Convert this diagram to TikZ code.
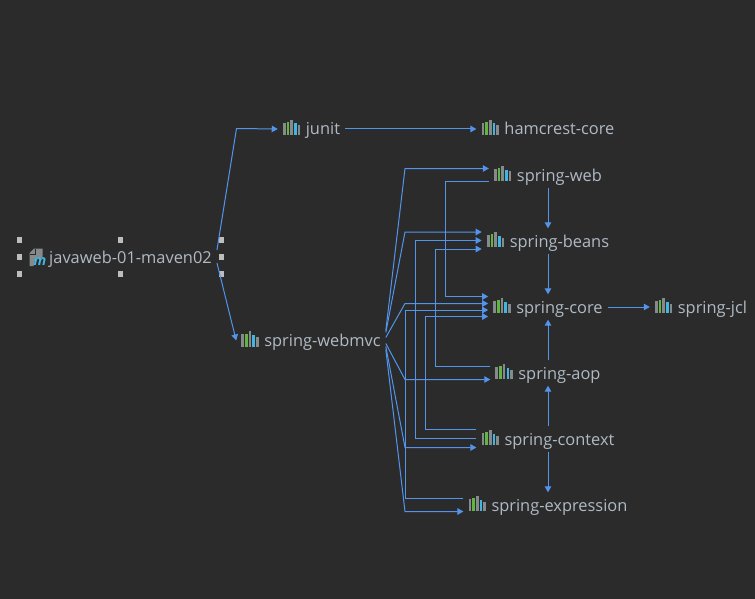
\documentclass[tikz,border=0pt]{standalone}
\usepackage{fontspec}
\setmainfont{Open Sans}
\usetikzlibrary{arrows.meta,positioning}
\definecolor{bgdark}{HTML}{2B2B2B}
\definecolor{deplink}{HTML}{5394EC}
\definecolor{libtext}{HTML}{B0BAC4}
\definecolor{bargray}{HTML}{858A8C}
\definecolor{bargreen}{HTML}{62B543}
\definecolor{barcyan}{HTML}{40B6E0}
\definecolor{handlegray}{HTML}{BDBDBD}
% bars of the library icon
\newcommand{\libicon}{\textcolor{bargray}{\rule{2.6pt}{12.3pt}}\kern1.1pt\textcolor{bargreen}{\rule{2.6pt}{12.6pt}}\kern1.1pt\textcolor{bargray}{\rule{2.6pt}{15.3pt}}\kern1.1pt\textcolor{barcyan}{\rule{2.6pt}{11.5pt}}\kern1.1pt\textcolor{bargray}{\rule{2.6pt}{9.5pt}}\kern5.5pt}
\tikzset{
    %Define standard arrow tip
    >={Triangle[length=6pt,width=6.5pt]},
    %Define style for library
    lib/.style={inner xsep=5pt, inner ysep=3.5pt, minimum height=25pt, text height=15pt, text depth=3pt, font=\fontsize{16.4pt}{18pt}\selectfont, text=libtext},
    dep/.style={draw=deplink, line width=1pt},
    handle/.style={fill=handlegray, inner sep=0pt, minimum size=5.5pt},
}
\begin{document}
\begin{tikzpicture}[x=1pt, y=-1pt, node distance=66pt, on grid]
    \fill[bgdark] (0,0) rectangle (755,599);

    \node[lib, minimum height=34pt](main) at (120.5,257){\hspace*{20pt}javaweb-01-maven02};
    \node[lib](junit) at (311.5,129){\libicon junit};
    \node[lib](webmvc) at (311,340.5){\libicon spring-webmvc};
    \node[lib](web) at (548,175){\libicon spring-web};
    \node[lib, above=46pt of web](hamcrest){\libicon hamcrest-core};
    \node[lib, below=of web](beans){\libicon spring-beans};
    \node[lib, below=of beans](core){\libicon spring-core};
    \node[lib, below=of core](aop){\libicon spring-aop};
    \node[lib, below=of aop](context){\libicon spring-context};
    \node[lib, below=of context](expression){\libicon spring-expression};
    \node[lib, right=153pt of core](jcl){\libicon spring-jcl};

    % project icon and selection handles
    \fill[bargray] (29.5,253) -- (34,248.5) -- (42.5,248.5) -- (42.5,258) -- (35.5,258) -- (33.5,266) -- (29.5,266) -- cycle;
    \draw[bgdark, line width=1pt] (30,254) -- (35,254) -- (35,249);
    \node[inner sep=0pt, text=barcyan, font=\fontsize{14pt}{14pt}\selectfont\bfseries\itshape](mavenm) at (40,261.5){m};
    \foreach \hx/\hy [count=\hi] in {19.5/240,120.5/240,221.5/240,19.5/257,221.5/257,19.5/274,120.5/274,221.5/274}
        \node[handle](handle\hi) at (\hx,\hy){};

    \draw[dep, ->] ([yshift=7pt]main.east) -- (236.5,128.5) -- (junit.west);
    \draw[dep, ->] ([yshift=-6pt]main.east) -- (webmvc.west);
    \draw[dep, ->] (junit.east) -- (hamcrest.west);
    \draw[dep, ->] (core.east) -- (jcl.west);

    % from spring-webmvc
    \draw[dep, ->] ([yshift=10pt]webmvc.east) -- (405,168.5) -- ([yshift=6.5pt]web.west);
    \draw[dep, ->] ([yshift=8pt]webmvc.east) -- (405,232) -- ([yshift=9pt]beans.west);
    \draw[dep, ->] ([yshift=3pt]webmvc.east) -- (405,303.5) -- ([yshift=3.5pt]core.west);
    \draw[dep, ->] ([yshift=-3pt]webmvc.east) -- (405,379.5) -- ([yshift=-6.5pt]aop.west);
    \draw[dep, ->] ([yshift=-6pt]webmvc.east) -- (405,447.5) -- ([yshift=-8.5pt]context.west);
    \draw[dep, ->] ([yshift=-9pt]webmvc.east) -- (405,511.5) -- ([yshift=-6.5pt]expression.west);

    % between the spring modules
    \draw[dep, ->] ([yshift=-6.5pt]web.west) -| (445.5,296.5) -- ([yshift=10.5pt]core.west);
    \draw[dep, ->] ([yshift=6.5pt]aop.west) -| (435.5,249) -- ([yshift=-8pt]beans.west);
    \draw[dep, ->] ([yshift=9.5pt]context.west) -| (425.5,316.5) -- ([yshift=-9.5pt]core.west);
    \draw[dep, ->] ([yshift=0.5pt]context.west) -| (415.5,240.5) -- ([yshift=0.5pt]beans.west);
    \draw[dep, ->] ([yshift=6.5pt]expression.west) -| (405,310) -- ([yshift=-3pt]core.west);

    \draw[dep, ->] (web) -- (beans);
    \draw[dep, ->] (beans) -- (core);
    \draw[dep, ->] (aop) -- (core);
    \draw[dep, ->] (context) -- (aop);
    \draw[dep, ->] (context) -- (expression);
\end{tikzpicture}
\end{document}
